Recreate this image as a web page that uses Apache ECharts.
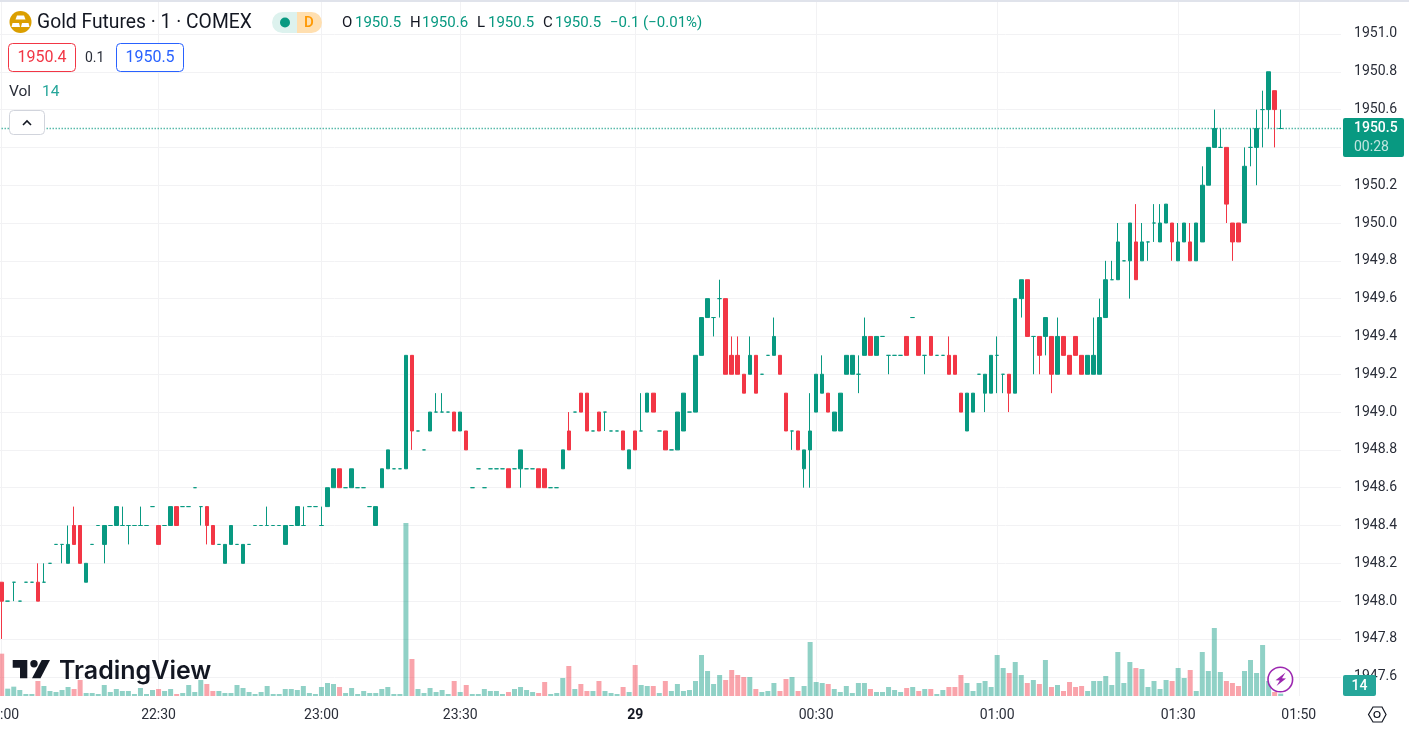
<!DOCTYPE html>
<html><head><meta charset="utf-8"><title>Gold Futures</title>
<style>html,body{margin:0;padding:0;background:#fff}#c{width:1409px;height:733px}</style>
<script src="https://cdn.jsdelivr.net/npm/echarts@6/dist/echarts.min.js"></script>
</head><body><div id="c"></div>
<script>
const opens=[1948.1,1948.0,1948.1,1948.0,1948.1,1948.1,1948.1,1948.1,1948.2,1948.3,
1948.3,1948.2,1948.4,1948.4,1948.1,1948.3,1948.4,1948.3,1948.4,1948.4,
1948.4,1948.4,1948.4,1948.4,1948.4,1948.5,1948.4,1948.4,1948.4,1948.5,
1948.5,1948.5,1948.6,1948.5,1948.5,1948.4,1948.3,1948.2,1948.3,1948.3,
1948.2,1948.3,1948.4,1948.4,1948.4,1948.4,1948.4,1948.3,1948.4,1948.4,
1948.4,1948.5,1948.5,1948.4,1948.5,1948.6,1948.7,1948.6,1948.6,1948.6,
1948.6,1948.5,1948.4,1948.6,1948.7,1948.7,1948.7,1948.7,1949.3,1948.9,
1948.8,1948.9,1949.0,1949.0,1949.0,1949.0,1948.9,1948.9,1948.6,1948.7,
1948.6,1948.7,1948.7,1948.7,1948.7,1948.7,1948.7,1948.7,1948.7,1948.7,
1948.7,1948.6,1948.6,1948.7,1948.9,1949.0,1949.1,1949.1,1948.9,1949.0,
1949.0,1948.9,1948.9,1948.9,1948.7,1948.9,1948.9,1949.0,1949.1,1948.9,
1948.9,1948.8,1948.8,1948.9,1949.0,1949.0,1949.3,1949.5,1949.5,1949.6,
1949.6,1949.3,1949.3,1949.2,1949.2,1949.3,1949.2,1949.3,1949.3,1949.3,
1949.1,1948.9,1948.9,1948.7,1948.8,1949.0,1949.1,1949.1,1948.9,1948.9,
1949.2,1949.2,1949.2,1949.3,1949.4,1949.3,1949.4,1949.3,1949.3,1949.3,
1949.4,1949.5,1949.4,1949.3,1949.4,1949.3,1949.3,1949.3,1949.3,1949.1,
1948.9,1949.0,1949.2,1949.1,1949.1,1949.3,1949.2,1949.2,1949.1,1949.6,
1949.7,1949.4,1949.4,1949.4,1949.4,1949.2,1949.4,1949.3,1949.4,1949.3,
1949.2,1949.2,1949.2,1949.5,1949.7,1949.7,1949.8,1949.8,1949.9,1949.8,
1949.9,1950.0,1949.9,1950.0,1950.0,1949.8,1949.9,1949.9,1949.8,1949.9,
1950.2,1950.4,1950.4,1950.4,1950.0,1950.0,1950.0,1950.4,1950.4,1950.6,
1950.6,1950.7,1950.5];
const closes=[1948.0,1948.0,1948.1,1948.0,1948.1,1948.1,1948.0,1948.1,1948.2,1948.3,
1948.3,1948.3,1948.3,1948.2,1948.2,1948.3,1948.4,1948.4,1948.4,1948.5,
1948.4,1948.4,1948.4,1948.4,1948.4,1948.5,1948.3,1948.4,1948.5,1948.4,
1948.5,1948.5,1948.6,1948.5,1948.4,1948.3,1948.3,1948.3,1948.4,1948.3,
1948.3,1948.3,1948.4,1948.4,1948.4,1948.4,1948.4,1948.4,1948.4,1948.5,
1948.4,1948.5,1948.5,1948.4,1948.6,1948.7,1948.6,1948.6,1948.7,1948.6,
1948.6,1948.5,1948.5,1948.7,1948.8,1948.7,1948.7,1949.3,1948.9,1948.9,
1948.8,1949.0,1949.0,1949.0,1949.0,1948.9,1949.0,1948.8,1948.6,1948.7,
1948.6,1948.7,1948.7,1948.7,1948.6,1948.7,1948.8,1948.7,1948.7,1948.6,
1948.6,1948.6,1948.6,1948.8,1948.8,1949.0,1949.0,1948.9,1948.9,1948.9,
1949.0,1948.9,1948.9,1948.8,1948.8,1948.8,1948.9,1949.1,1949.0,1948.9,
1948.8,1948.8,1949.0,1949.1,1949.0,1949.3,1949.5,1949.6,1949.5,1949.6,
1949.2,1949.2,1949.2,1949.1,1949.3,1949.1,1949.2,1949.3,1949.4,1949.2,
1948.9,1948.9,1948.8,1948.8,1948.9,1949.2,1949.2,1949.0,1949.0,1949.1,
1949.3,1949.3,1949.2,1949.4,1949.3,1949.4,1949.4,1949.3,1949.3,1949.3,
1949.3,1949.5,1949.3,1949.3,1949.3,1949.3,1949.3,1949.2,1949.2,1949.0,
1949.1,1949.1,1949.2,1949.2,1949.3,1949.3,1949.2,1949.1,1949.6,1949.7,
1949.4,1949.4,1949.3,1949.5,1949.2,1949.4,1949.3,1949.2,1949.3,1949.2,
1949.3,1949.3,1949.5,1949.7,1949.7,1949.9,1949.8,1950.0,1949.7,1949.9,
1949.9,1950.0,1950.0,1950.1,1949.9,1949.9,1950.0,1949.8,1950.0,1950.2,
1950.4,1950.5,1950.4,1950.1,1949.9,1949.9,1950.3,1950.4,1950.5,1950.6,
1950.8,1950.6,1950.5];
const highs=[1948.1,1948.0,1948.1,1948.0,1948.1,1948.1,1948.2,1948.2,1948.2,1948.3,
1948.3,1948.4,1948.5,1948.4,1948.2,1948.3,1948.4,1948.4,1948.4,1948.5,
1948.5,1948.4,1948.4,1948.5,1948.4,1948.5,1948.4,1948.4,1948.5,1948.5,
1948.5,1948.5,1948.6,1948.5,1948.5,1948.4,1948.3,1948.3,1948.4,1948.3,
1948.3,1948.3,1948.4,1948.4,1948.5,1948.4,1948.4,1948.4,1948.4,1948.5,
1948.5,1948.5,1948.5,1948.5,1948.6,1948.7,1948.7,1948.6,1948.7,1948.6,
1948.6,1948.5,1948.5,1948.7,1948.8,1948.7,1948.7,1949.3,1949.3,1948.9,
1948.8,1949.0,1949.1,1949.1,1949.0,1949.0,1949.0,1948.9,1948.6,1948.7,
1948.6,1948.7,1948.7,1948.7,1948.7,1948.7,1948.8,1948.7,1948.7,1948.7,
1948.7,1948.6,1948.6,1948.8,1949.0,1949.0,1949.1,1949.1,1948.9,1949.0,
1949.0,1948.9,1948.9,1948.9,1948.8,1948.9,1949.1,1949.1,1949.1,1948.9,
1948.9,1948.8,1949.0,1949.1,1949.0,1949.3,1949.5,1949.6,1949.5,1949.7,
1949.6,1949.4,1949.4,1949.2,1949.4,1949.3,1949.2,1949.3,1949.5,1949.3,
1949.1,1948.9,1948.9,1948.8,1949.1,1949.2,1949.3,1949.1,1949.0,1949.1,
1949.3,1949.3,1949.3,1949.5,1949.4,1949.4,1949.4,1949.3,1949.3,1949.3,
1949.4,1949.5,1949.4,1949.3,1949.4,1949.3,1949.3,1949.4,1949.3,1949.1,
1949.1,1949.1,1949.2,1949.2,1949.3,1949.4,1949.2,1949.2,1949.6,1949.7,
1949.7,1949.4,1949.4,1949.5,1949.4,1949.5,1949.4,1949.3,1949.4,1949.3,
1949.3,1949.5,1949.6,1949.8,1949.8,1950.0,1949.8,1950.0,1950.1,1950.0,
1949.9,1950.1,1950.1,1950.1,1950.0,1950.0,1950.0,1950.0,1950.0,1950.3,
1950.4,1950.6,1950.5,1950.4,1950.0,1950.0,1950.4,1950.5,1950.6,1950.7,
1950.8,1950.7,1950.6];
const lows=[1947.8,1948.0,1948.0,1948.0,1948.1,1948.1,1948.0,1948.1,1948.2,1948.3,
1948.2,1948.2,1948.3,1948.2,1948.1,1948.3,1948.4,1948.2,1948.4,1948.4,
1948.4,1948.3,1948.4,1948.4,1948.4,1948.5,1948.3,1948.4,1948.4,1948.4,
1948.5,1948.5,1948.6,1948.4,1948.3,1948.3,1948.3,1948.2,1948.3,1948.3,
1948.2,1948.3,1948.4,1948.4,1948.4,1948.4,1948.4,1948.3,1948.4,1948.4,
1948.4,1948.5,1948.5,1948.4,1948.5,1948.6,1948.6,1948.6,1948.6,1948.6,
1948.6,1948.5,1948.4,1948.6,1948.7,1948.7,1948.7,1948.7,1948.8,1948.9,
1948.8,1948.9,1949.0,1949.0,1949.0,1948.9,1948.9,1948.8,1948.6,1948.7,
1948.6,1948.7,1948.7,1948.7,1948.6,1948.7,1948.6,1948.7,1948.7,1948.6,
1948.6,1948.6,1948.6,1948.7,1948.8,1949.0,1949.0,1948.9,1948.9,1948.9,
1948.9,1948.9,1948.9,1948.8,1948.7,1948.8,1948.9,1949.0,1949.0,1948.9,
1948.8,1948.8,1948.8,1948.9,1949.0,1949.0,1949.3,1949.5,1949.4,1949.5,
1949.2,1949.2,1949.2,1949.1,1949.2,1949.1,1949.2,1949.3,1949.3,1949.2,
1948.9,1948.8,1948.8,1948.6,1948.6,1949.0,1949.1,1949.0,1948.9,1948.9,
1949.2,1949.2,1949.1,1949.3,1949.3,1949.3,1949.4,1949.2,1949.3,1949.3,
1949.3,1949.5,1949.3,1949.2,1949.3,1949.3,1949.3,1949.2,1949.2,1949.0,
1948.9,1949.0,1949.2,1949.0,1949.1,1949.1,1949.1,1949.0,1949.1,1949.5,
1949.4,1949.2,1949.2,1949.3,1949.1,1949.2,1949.3,1949.2,1949.3,1949.2,
1949.2,1949.2,1949.2,1949.5,1949.7,1949.7,1949.8,1949.6,1949.7,1949.8,
1949.8,1949.9,1949.9,1950.0,1949.8,1949.8,1949.9,1949.8,1949.8,1949.9,
1950.2,1950.4,1950.4,1950.0,1949.8,1949.9,1950.0,1950.3,1950.2,1950.4,
1950.5,1950.4,1950.5];
const volumes=[254,44,56,36,12,12,90,60,30,24,
36,54,42,96,18,18,12,66,24,42,
30,30,12,48,12,36,42,30,42,12,
18,66,24,96,72,30,30,18,18,66,
48,24,12,24,60,12,12,42,42,36,
60,18,12,54,78,72,54,18,48,12,
30,18,18,42,54,12,12,1038,222,42,
18,48,24,36,12,90,24,66,12,12,
42,30,30,12,24,42,54,36,24,18,
84,12,18,108,180,42,72,30,30,90,
30,18,12,54,24,186,66,60,60,18,
90,30,72,30,36,90,246,150,72,126,
96,156,126,114,114,42,24,30,78,30,
102,114,30,60,324,84,78,72,42,24,
60,18,78,78,42,24,24,54,36,24,
48,54,30,42,42,12,36,54,54,126,
78,30,78,90,54,246,168,138,204,126,
78,96,72,216,54,66,30,84,54,60,
30,90,90,120,66,264,78,204,168,162,
54,90,42,96,90,168,108,156,30,264,
150,408,144,90,78,60,150,216,138,306,
90,24,14];
const tickSlots=[0,26,53,76,105,135,165,195,215];
const tickLabels=['22:00','22:30','23:00','23:30','29','00:30','01:00','01:30','01:50'];
const slotCount=223;
const lastPrice=1950.5;

const UP='#089981',DOWN='#F23645',FONT='Roboto, sans-serif',INK='#131722',GRID='#F2F2F4';
const labelAt=new Map(tickSlots.map((s,i)=>[s+1,tickLabels[i]]));
const cats=Array.from({length:slotCount+1},(_,i)=>String(i));
const candle=[['-','-','-','-']].concat(opens.map((o,i)=>[o,closes[i],lows[i],highs[i]]));
const vols=[null].concat(volumes.map((v,i)=>({value:v,itemStyle:{color:closes[i]<opens[i]?'rgba(242,54,69,.45)':'rgba(8,153,129,.45)'}})));
const step=6.033,left=1.7-step,width=slotCount*step;
const t=(text,x,y,fill,size,extra)=>({type:'text',z:100,x,y,style:Object.assign({text,fill,fontSize:size||15,fontFamily:FONT,verticalAlign:'middle',align:'left'},extra||{})});
const box=(x,y,w,h,fill,stroke,r)=>({type:'rect',z:99,shape:{x,y,width:w,height:h,r:r||0},style:{fill:fill,stroke:stroke||null,lineWidth:1}});

const graphics=[
 box(0,0,1409,2,'#e0e3eb'),
 {type:'circle',z:99,shape:{cx:20.5,cy:22,r:11},style:{fill:'#DB9F00'}},
 {type:'polygon',z:100,shape:{points:[[17,15.5],[24,15.5],[25.5,19.5],[15.5,19.5]]},style:{fill:'#fff'}},
 {type:'polygon',z:100,shape:{points:[[12.5,23],[19,23],[20,27],[11.5,27]]},style:{fill:'#fff'}},
 {type:'polygon',z:100,shape:{points:[[22,23],[28.5,23],[29.5,27],[21,27]]},style:{fill:'#fff'}},
 t('Gold Futures · 1 · COMEX',37,23.5,INK,19.3),
 {type:'rect',z:99,shape:{x:272,y:12,width:25,height:21,r:[10.5,0,0,10.5]},style:{fill:'#DDF2EE'}},
 {type:'rect',z:99,shape:{x:297,y:12,width:25,height:21,r:[0,10.5,10.5,0]},style:{fill:'#FFDFB0'}},
 {type:'circle',z:100,shape:{cx:285,cy:22.5,r:5},style:{fill:UP}},
 t('D',309,23,'#FF9800',15,{align:'center',fontWeight:500}),
 t('O',342,23.5,INK),t('1950.5',355,23.5,UP),
 t('H',410,23.5,INK),t('1950.6',422,23.5,UP),
 t('L',477,23.5,INK),t('1950.5',488,23.5,UP),
 t('C',543,23.5,INK),t('1950.5',555,23.5,UP),
 t('−0.1 (−0.01%)',610,23.5,UP),
 box(8.5,43.5,67,28,'#fff',DOWN,4),t('1950.4',42,58,DOWN,16,{align:'center'}),
 t('0.1',85,58,'#2a2e39',14),
 box(116.5,43.5,67,28,'#fff','#2962FF',4),t('1950.5',150,58,'#2962FF',16,{align:'center'}),
 t('Vol',9,92.5,'#2a2e39',15.5),t('14',42,92.5,'#26A69A',15.5),
 box(9.5,110.5,35,24,'#fff','#D1D4DC',4),
 {type:'polyline',z:100,shape:{points:[[23,125],[27,121],[31,125]]},style:{stroke:INK,lineWidth:1.6,fill:null}},
 box(1343,118,61,39,UP,null,2),
 t('1950.5',1354,128.5,'#fff',14,{fontWeight:500}),t('00:28',1354,147,'rgba(255,255,255,.75)',14),
 box(1343,675,33,21,'#26A69A',null,2),
 t('14',1359.5,686,'#fff',14,{align:'center',fontWeight:500}),
 {type:'polygon',z:100,shape:{points:[[12.7,660],[27.3,660],[27.3,678.3],[20,678.3],[20,667.7],[12.7,667.7]]},style:{fill:INK}},
 {type:'circle',z:100,shape:{cx:34,cy:663.7,r:3.7},style:{fill:INK}},
 {type:'polygon',z:100,shape:{points:[[41.7,660],[50,660],[40.5,678.3],[32,678.3]]},style:{fill:INK}},
 t('TradingView',59,671,INK,25,{fontFamily:'Inter, sans-serif',fontWeight:600}),
 {type:'circle',z:100,shape:{cx:1280.3,cy:679.5,r:12.3},style:{fill:'rgba(255,255,255,.85)',stroke:'#9C27B0',lineWidth:1.6}},
 {type:'polygon',z:101,shape:{points:[[1285.5,672.5],[1275.5,680.3],[1279.8,680.5],[1276.5,686],[1286,678.6],[1282,678.2]]},style:{fill:'#9C27B0'}},
 {type:'polygon',z:100,shape:{points:[[1368.5,714.5],[1373,707],[1382,707],[1386,714.5],[1382,722],[1373,722]]},style:{fill:'#fff',stroke:INK,lineWidth:1.2}},
 {type:'circle',z:101,shape:{cx:1377,cy:714.5,r:3},style:{fill:'#fff',stroke:INK,lineWidth:1.2}}
];

const chart=echarts.init(document.getElementById('c'),null,{renderer:'canvas'});
chart.setOption({
 animation:false,backgroundColor:'#fff',
 grid:[
  {left:left,width:width,top:-3.85,height:680.6,containLabel:false,outerBoundsMode:'none'},
  {left:left,width:width,top:2,height:694,containLabel:false,outerBoundsMode:'none'}
 ],
 xAxis:[
  {type:'category',gridIndex:0,data:cats,boundaryGap:false,show:false},
  {type:'category',gridIndex:1,data:cats,boundaryGap:false,
   axisLine:{show:false},axisTick:{show:false},
   splitLine:{show:true,interval:(i)=>labelAt.has(i),lineStyle:{color:GRID,width:1}},
   axisLabel:{interval:(i)=>labelAt.has(i),margin:12,fontFamily:FONT,fontSize:14,color:'#2a2e39',hideOverlap:false,
    formatter:(v,i)=>{const s=labelAt.get(+v);if(!s)return '';return s==='29'?'{b|29}':s;},
    rich:{b:{fontWeight:'bold',fontFamily:FONT,fontSize:14,color:INK}}}}
 ],
 yAxis:[
  {type:'value',gridIndex:0,position:'right',min:1947.6,max:1951.2,interval:0.2,scale:true,
   axisLine:{show:false},axisTick:{show:false},
   splitLine:{show:true,showMaxLine:false,lineStyle:{color:GRID,width:1}},
   axisLabel:{margin:13,padding:[0,0,3,0],fontFamily:FONT,fontSize:14,color:'#2a2e39',showMaxLabel:false,formatter:(v)=>v.toFixed(1)}},
  {type:'value',gridIndex:1,min:0,max:4164,show:false,splitLine:{show:false}}
 ],
 series:[
  {type:'bar',xAxisIndex:1,yAxisIndex:1,data:vols,barWidth:5,clip:false,silent:true,z:1},
  {type:'candlestick',xAxisIndex:0,yAxisIndex:0,data:candle,barWidth:4,clip:false,silent:true,z:3,
   itemStyle:{color:UP,color0:DOWN,borderColor:UP,borderColor0:DOWN,borderColorDoji:UP,borderWidth:1},
   markLine:{silent:true,symbol:['none','none'],animation:false,precision:1,label:{show:false},
    lineStyle:{color:UP,type:[1,2],width:1.3,opacity:1},
    data:[{yAxis:lastPrice,lineStyle:{color:UP,type:[1,2],width:1.3,opacity:1}}]}}
 ],
 graphic:{elements:graphics}
});
</script></body></html>
